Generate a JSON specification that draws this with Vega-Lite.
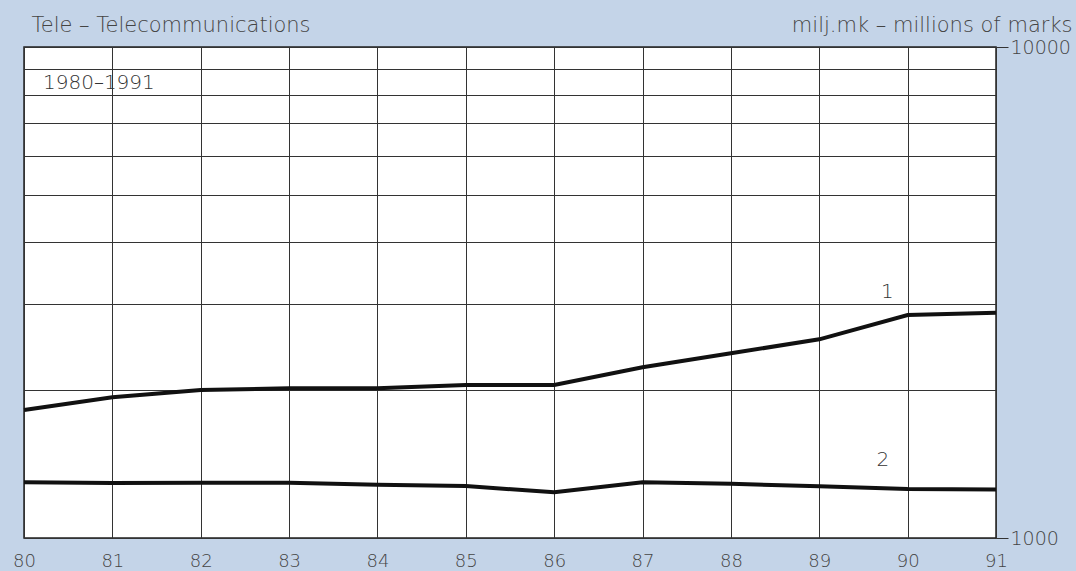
{
  "$schema": "https://vega.github.io/schema/vega-lite/v6.json",
  "width": 972,
  "height": 491,
  "autosize": {"type": "none"},
  "padding": {"left": 24, "top": 47, "right": 80, "bottom": 33},
  "background": "#c4d4e8",
  "config": {
    "view": {"fill": "white", "stroke": "#222", "strokeWidth": 1.5},
    "font": "DejaVu Sans"
  },
  "datasets": {
    "series": [
      {"year": 80, "value": 1823, "series": "1"},
      {"year": 81, "value": 1934, "series": "1"},
      {"year": 82, "value": 2001, "series": "1"},
      {"year": 83, "value": 2018, "series": "1"},
      {"year": 84, "value": 2018, "series": "1"},
      {"year": 85, "value": 2050, "series": "1"},
      {"year": 86, "value": 2050, "series": "1"},
      {"year": 87, "value": 2227, "series": "1"},
      {"year": 88, "value": 2378, "series": "1"},
      {"year": 89, "value": 2539, "series": "1"},
      {"year": 90, "value": 2846, "series": "1"},
      {"year": 91, "value": 2876, "series": "1"},
      {"year": 80, "value": 1299, "series": "2"},
      {"year": 81, "value": 1294, "series": "2"},
      {"year": 82, "value": 1296, "series": "2"},
      {"year": 83, "value": 1296, "series": "2"},
      {"year": 84, "value": 1284, "series": "2"},
      {"year": 85, "value": 1276, "series": "2"},
      {"year": 86, "value": 1239, "series": "2"},
      {"year": 87, "value": 1299, "series": "2"},
      {"year": 88, "value": 1290, "series": "2"},
      {"year": 89, "value": 1274, "series": "2"},
      {"year": 90, "value": 1258, "series": "2"},
      {"year": 91, "value": 1256, "series": "2"}
    ],
    "seriesLabels": [
      {"year": 89.77, "value": 3177, "label": "1"},
      {"year": 89.72, "value": 1441, "label": "2"}
    ],
    "periodLabel": [
      {"year": 80.215, "value": 8447, "label": "1980–1991"}
    ]
  },
  "resolve": {"axis": {"x": "independent"}},
  "layer": [
    {
      "data": {"name": "series"},
      "mark": {"type": "line", "color": "#111", "strokeWidth": 4, "strokeJoin": "miter"},
      "encoding": {
        "x": {
          "field": "year",
          "type": "quantitative",
          "scale": {"domain": [80, 91], "nice": false, "zero": false},
          "axis": {
            "orient": "bottom",
            "values": [80, 81, 82, 83, 84, 85, 86, 87, 88, 89, 90, 91],
            "format": "d",
            "grid": true,
            "gridColor": "#333",
            "gridWidth": 1,
            "ticks": false,
            "domain": false,
            "labelFontSize": 18,
            "labelPadding": 14,
            "labelFlush": false,
            "labelOverlap": false,
            "labelColor": "#444",
            "labelFontWeight": 200,
            "title": null
          }
        },
        "y": {
          "field": "value",
          "type": "quantitative",
          "scale": {"type": "log", "domain": [1000, 10000], "nice": false},
          "axis": {
            "orient": "right",
            "values": [1000, 2000, 3000, 4000, 5000, 6000, 7000, 8000, 9000, 10000],
            "format": "d",
            "labelExpr": "datum.value == 1000 || datum.value == 10000 ? datum.label : ''",
            "grid": true,
            "gridColor": "#333",
            "gridWidth": 1,
            "domain": false,
            "tickColor": "#333",
            "tickSize": 12,
            "tickOpacity": {"condition": {"test": "datum.value == 1000 || datum.value == 10000", "value": 1}, "value": 0},
            "labelFontSize": 19,
            "labelPadding": 2,
            "labelBaseline": "middle",
            "labelOverlap": false,
            "labelFlush": false,
            "labelColor": "#444",
            "labelFontWeight": 200,
            "title": "milj.mk – millions of marks",
            "titleAngle": 0,
            "titleX": 76,
            "titleY": -16,
            "titleAlign": "right",
            "titleBaseline": "alphabetic",
            "titleFontSize": 21,
            "titleFontWeight": 200,
            "titleColor": "#444"
          }
        },
        "detail": {"field": "series", "type": "nominal"}
      }
    },
    {
      "data": {"name": "seriesLabels"},
      "mark": {"type": "text", "align": "center", "baseline": "middle", "fontSize": 20, "fontWeight": 200, "color": "#333"},
      "encoding": {
        "x": {"field": "year", "type": "quantitative", "axis": null},
        "y": {"field": "value", "type": "quantitative"},
        "text": {"field": "label"}
      }
    },
    {
      "data": {"name": "periodLabel"},
      "mark": {"type": "text", "align": "left", "baseline": "middle", "fontSize": 20, "fontWeight": 200, "color": "#333"},
      "encoding": {
        "x": {
          "field": "year",
          "type": "quantitative",
          "axis": {
            "orient": "top",
            "labels": false,
            "ticks": false,
            "domain": false,
            "grid": false,
            "title": "Tele – Telecommunications",
            "titleX": 7,
            "titleY": -16,
            "titleAlign": "left",
            "titleAngle": 0,
            "titleBaseline": "alphabetic",
            "titleFontSize": 21,
            "titleFontWeight": 200,
            "titleColor": "#444"
          }
        },
        "y": {"field": "value", "type": "quantitative"},
        "text": {"field": "label"}
      }
    }
  ]
}
